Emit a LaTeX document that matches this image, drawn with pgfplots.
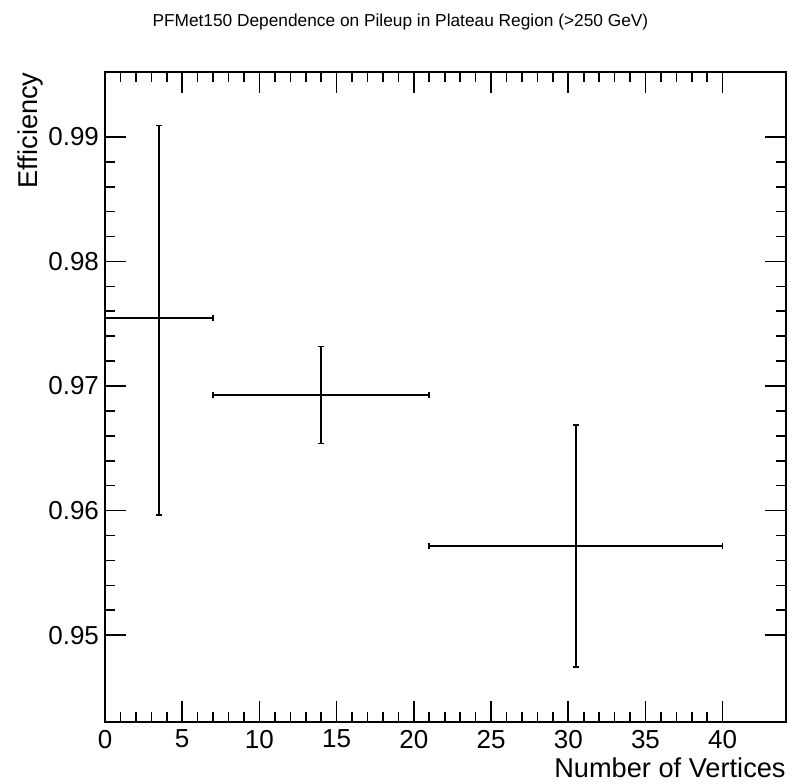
\documentclass[border=0pt]{standalone}
\usepackage{fontspec}
\setmainfont{Liberation Sans}
\usepackage{pgfplots}
\pgfplotsset{compat=1.18}
\begin{document}
\begin{tikzpicture}[x=1pt,y=1pt]
\path[use as bounding box] (0,0) rectangle (399,391.5);
\node[font=\fontsize{8.65}{10}\selectfont] at (200.2,380.5) {PFMet150 Dependence on Pileup in Plateau Region (>250 GeV)};
\begin{axis}[
  at={(52.5pt,30.5pt)}, anchor=south west,
  scale only axis, width=340.5pt, height=325pt,
  xmin=0, xmax=44.1, ymin=0.94303, ymax=0.99521,
  xtick={0,5,...,40}, minor x tick num=4,
  ytick={0.95,0.96,0.97,0.98,0.99}, minor y tick num=4,
  yticklabel style={/pgf/number format/fixed, /pgf/number format/precision=2, /pgf/number format/fixed zerofill, xshift=0.5pt},
  /pgf/number format/assume math mode=true,
  tick label style={font=\fontsize{13}{15}\selectfont},
  xticklabel style={yshift=-0.5pt},
  tick align=inside, xtick pos=both, ytick pos=both,
  major tick length=10.5pt, minor tick length=5pt,
  every tick/.style={black, line width=0.8pt},
  axis line style={line width=1.1pt},
  xlabel={Number of Vertices}, ylabel={Efficiency},
  label style={font=\fontsize{13.6}{15}\selectfont, inner sep=0pt},
  xlabel style={at={(axis description cs:1,-0.071)}, anchor=east},
  ylabel style={at={(axis description cs:-0.109,1)}, anchor=east},
]
\addplot[black, line width=0.8pt, draw=none, mark=none,
  error bars/.cd, x dir=both, x explicit, y dir=both, y explicit,
  error mark=|,
  error bar style={draw=black, solid, line width=0.8pt},
  error mark options={draw=black, solid, line width=0.8pt, mark size=1.6pt}]
  table[x=x, y=y, x error minus=exm, x error plus=exp, y error minus=eym, y error plus=eyp] {
x y exm exp eym eyp
3.5 0.97544 3.5 3.5 0.01579 0.01546
14 0.96927 7 7 0.00387 0.00390
30.5 0.95715 9.5 9.5 0.00970 0.00973
};
\end{axis}
\end{tikzpicture}
\end{document}
